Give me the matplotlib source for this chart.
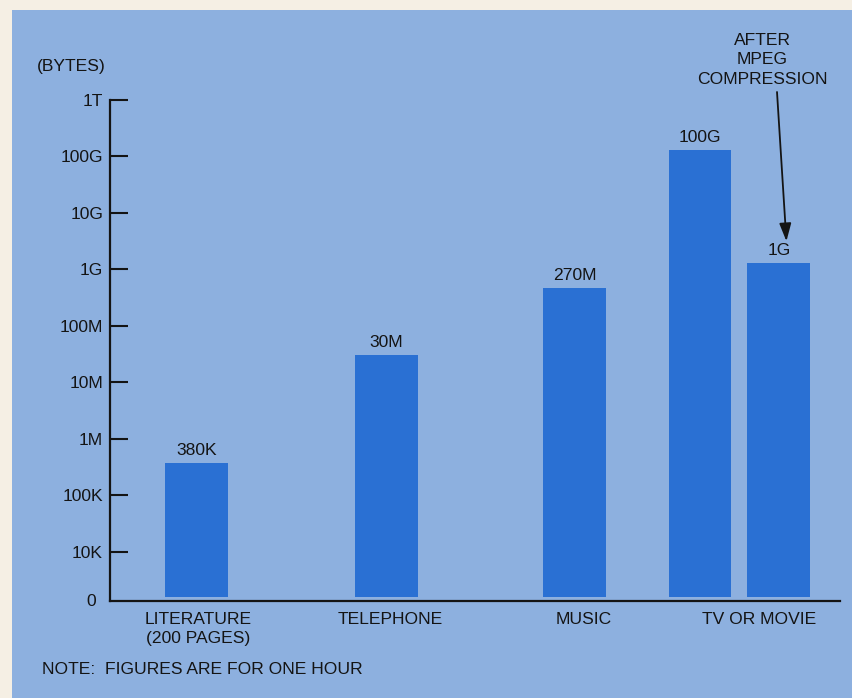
import matplotlib
matplotlib.use("Agg")
import matplotlib.pyplot as plt
from matplotlib.patches import Rectangle

# ---- data ----
categories = ["LITERATURE\n(200 PAGES)", "TELEPHONE", "MUSIC", "TV OR MOVIE"]
bar_values = [3.8e5, 3.1e7, 4.7e8, 1.3e11, 1.3e9]   # drawn heights (bytes)
bar_labels = ["380K", "30M", "270M", "100G", "1G"]
tick_values = [1e4, 1e5, 1e6, 1e7, 1e8, 1e9, 1e10, 1e11, 1e12]
tick_labels = ["10K", "100K", "1M", "10M", "100M", "1G", "10G", "100G", "1T"]

# ---- layout ----
bar_pos = [0.0, 1.0, 1.99, 2.65, 3.065]
cat_pos = [0.01, 1.02, 2.04, 2.96]
bar_width = 0.33
y_bottom = 10 ** 3.13
bar_base = 10 ** 3.2
FS = 12.6

BG = "#8db0df"
BAR = "#2a70d3"
CREAM = "#f5efe4"
TXT = "#141414"

plt.rcParams['font.family'] = ['Liberation Sans', 'DejaVu Sans']

fig = plt.figure(figsize=(8.52, 6.98), dpi=100, facecolor=CREAM)
fig.patches.append(Rectangle((12 / 852, 0), 1, 1 - 10 / 698, transform=fig.transFigure,
                             facecolor=BG, edgecolor="none", zorder=-10))

ax = fig.add_axes([110 / 852, 1 - 601 / 698, 730 / 852, 501 / 698])
ax.set_zorder(2)
ax.set_facecolor("none")
ax.set_yscale("log")
ax.set_ylim(y_bottom, 1e12)
ax.set_xlim(-0.455, 3.387)

heights = [v - bar_base for v in bar_values]
ax.bar(bar_pos, heights, width=bar_width, bottom=bar_base, color=BAR, edgecolor="none", zorder=2)

for x, v, lab in zip(bar_pos, bar_values, bar_labels):
    ax.annotate(lab, (x, v), xytext=(0, 3.5), textcoords="offset points",
                ha="center", va="bottom", fontsize=FS, color=TXT)

for x, c in zip(cat_pos, categories):
    ax.annotate(c, (x, y_bottom), xytext=(0, -8), textcoords="offset points",
                ha="center", va="top", fontsize=FS, color=TXT, linespacing=1.3)

for s in ["top", "right"]:
    ax.spines[s].set_visible(False)
for s in ["left", "bottom"]:
    ax.spines[s].set_linewidth(1.6)
    ax.spines[s].set_color(TXT)

ax.set_yticks(tick_values)
ax.set_yticklabels(tick_labels)
ax.yaxis.set_minor_locator(matplotlib.ticker.NullLocator())
ax.tick_params(axis="y", direction="in", length=13, width=1.5, color=TXT,
               labelsize=FS, labelcolor=TXT, pad=5)
ax.set_xticks([])

# "0" label at the bottom
ax.annotate("0", (0, 0), xycoords="axes fraction", xytext=(-10, 0), textcoords="offset points",
            ha="right", va="center", fontsize=FS, color=TXT)

fig.text(37 / 852, 1 - 66 / 698, "(BYTES)", ha="left", va="center", fontsize=FS, color=TXT)
fig.text(42 / 852, 1 - 670 / 698, "NOTE:  FIGURES ARE FOR ONE HOUR", ha="left", va="center",
         fontsize=FS, color=TXT)
fig.text(762 / 852, 1 - 60 / 698, "AFTER\nMPEG\nCOMPRESSION", ha="center", va="center",
         fontsize=FS, color=TXT, linespacing=1.35)

ax.annotate("", xy=(bar_pos[4] + 0.04, 10 ** 9.5), xycoords="data",
            xytext=(777 / 852, 1 - 92 / 698), textcoords="figure fraction",
            arrowprops=dict(arrowstyle="-|>,head_length=0.6,head_width=0.2", color=TXT,
                            lw=1.3, mutation_scale=18, shrinkA=0, shrinkB=0))

fig.savefig("out.png", dpi=100, facecolor=fig.get_facecolor())
